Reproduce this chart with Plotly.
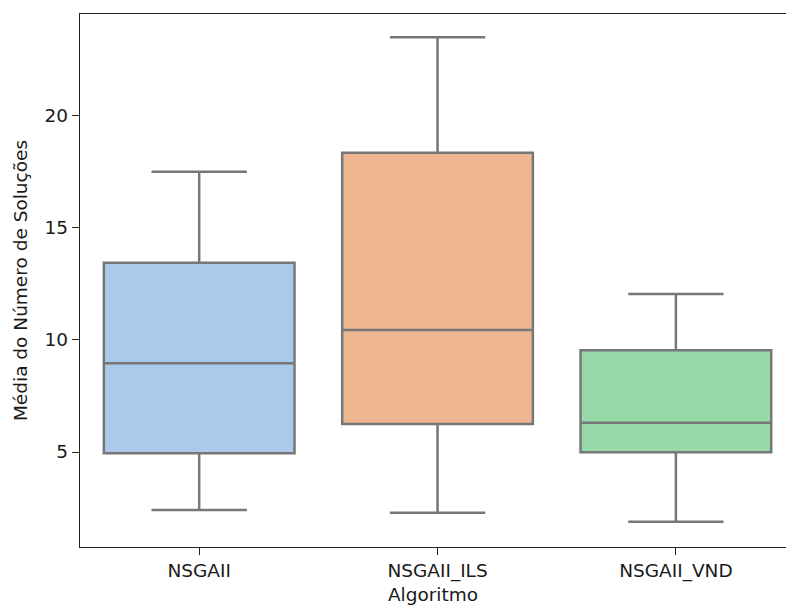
import plotly.graph_objects as go

# Summary statistics per algorithm (box plot of mean number of solutions)
algorithms = ["NSGAII", "NSGAII_ILS", "NSGAII_VND"]
lower_whisker = [2.41, 2.29, 1.89]
q1 = [4.94, 6.25, 4.99]
median = [8.96, 10.45, 6.31]
q3 = [13.45, 18.36, 9.54]
upper_whisker = [17.51, 23.51, 12.05]

fill_colors = ["#abc9ea", "#efb692", "#98daa7"]
edge_color = "#777777"

fig = go.Figure()
for i, name in enumerate(algorithms):
    fig.add_trace(go.Box(
        x=[i],
        q1=[q1[i]],
        median=[median[i]],
        q3=[q3[i]],
        lowerfence=[lower_whisker[i]],
        upperfence=[upper_whisker[i]],
        name=name,
        width=0.8,
        whiskerwidth=0.5,
        fillcolor=fill_colors[i],
        line=dict(color=edge_color, width=2.5),
        boxpoints=False,
        hoverinfo="skip",
        showlegend=False,
    ))

font = dict(family="DejaVu Sans", size=18.5, color="#1a1a1a")

fig.update_layout(
    width=786,
    height=607,
    margin=dict(l=80, r=0, t=14, b=60),
    plot_bgcolor="white",
    paper_bgcolor="white",
    font=font,
    xaxis=dict(
        range=[-0.5, 2.462],
        tickmode="array",
        tickvals=[0, 1, 2],
        ticktext=algorithms,
        showgrid=False,
        zeroline=False,
        showline=True,
        linecolor="#222222",
        linewidth=1.3,
        mirror=True,
        ticks="outside",
        ticklen=7,
        tickcolor="#222222",
        tickwidth=1.3,
        title=dict(text="Algoritmo", standoff=6, font=font),
    ),
    yaxis=dict(
        range=[0.76, 24.55],
        tickvals=[5, 10, 15, 20],
        showgrid=False,
        zeroline=False,
        showline=True,
        linecolor="#222222",
        linewidth=1.3,
        ticks="outside",
        ticklen=7,
        tickcolor="#222222",
        tickwidth=1.3,
        title=dict(text="Média do Número de Soluções", standoff=12, font=font),
    ),
)

fig.write_html("out.html")
